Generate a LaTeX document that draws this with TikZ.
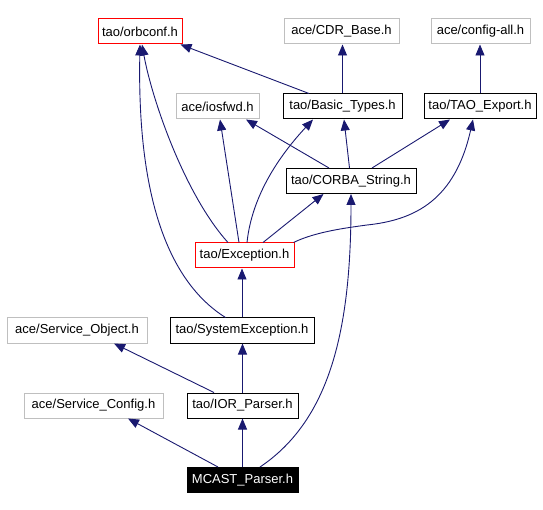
\documentclass[tikz,border=0pt]{standalone}
\usepackage{fontspec}
\setmainfont{Liberation Sans}
\usetikzlibrary{arrows.meta,calc}
\definecolor{edgeblue}{RGB}{25,25,112}
\definecolor{greyline}{RGB}{191,191,191}
\begin{document}
\begin{tikzpicture}[x=1pt,y=-1pt,
  box/.style={line width=1pt,minimum height=25pt,inner sep=0pt,font=\fontsize{13}{15}\selectfont,anchor=center},
  greybox/.style={box,draw=greyline},
  redbox/.style={box,draw=red},
  blackbox/.style={box,draw=black},
  mainbox/.style={box,draw=black,fill=black,text=white},
  edge/.style={draw=edgeblue,line width=0.9pt,-{Triangle[length=11pt,width=9pt]}}]
\useasboundingbox (0,0) rectangle (543,510);
% nodes
\node[redbox,minimum width=84pt] (orb) at (140,31.5) {tao/orbconf.h};
\node[greybox,minimum width=115pt] (cdr) at (341.5,31.5) {ace/CDR\_Base.h};
\node[greybox,minimum width=99pt] (cfg) at (480.5,31.5) {ace/config-all.h};
\node[greybox,minimum width=83pt] (ios) at (217.5,106.5) {ace/iosfwd.h};
\node[blackbox,minimum width=119pt] (bt) at (342.5,106.5) {tao/Basic\_Types.h};
\node[blackbox,minimum width=112pt] (tao) at (480,106.5) {tao/TAO\_Export.h};
\node[blackbox,minimum width=130pt] (cs) at (351,181) {tao/CORBA\_String.h};
\node[redbox,minimum width=99pt] (exc) at (244.5,255.5) {tao/Exception.h};
\node[blackbox,minimum width=144pt] (sys) at (242,330.5) {tao/SystemException.h};
\node[greybox,minimum width=140pt] (so) at (77,330.5) {ace/Service\_Object.h};
\node[greybox,minimum width=139pt] (sc) at (93.5,405.5) {ace/Service\_Config.h};
\node[blackbox,minimum width=111pt] (ior) at (242.5,405.5) {tao/IOR\_Parser.h};
\node[mainbox,minimum width=111pt] (mc) at (242.5,480) {MCAST\_Parser.h};
% edges
\draw[edge] ([xshift=-33.5pt]bt.north) -- ([xshift=-2pt]orb.south east);
\draw[edge] (bt.north) -- (bt.north |- cdr.south);
\draw[edge] (tao.north) -- (tao.north |- cfg.south);
\draw[edge] ([xshift=-22pt]cs.north) -- ([xshift=28.5pt]ios.south);
\draw[edge] ([xshift=-1.5pt]cs.north) -- ([xshift=1.5pt]bt.south);
\draw[edge] ([xshift=21pt]cs.north) -- ([xshift=-30pt]tao.south);
\draw[edge] ([xshift=-16.5pt]exc.north) .. controls (185,195) and (152,100) .. ([xshift=2pt]orb.south);
\draw[edge] ([xshift=-5.5pt]exc.north) -- ([xshift=2.5pt]ios.south);
\draw[edge] ([xshift=2.5pt]exc.north) .. controls (252,195) and (280,155) .. ([xshift=-29.5pt]bt.south);
\draw[edge] ([xshift=18.5pt]exc.north) -- ([xshift=-27.5pt]cs.south);
\draw[edge] ([xshift=-1pt]exc.north east) .. controls (315,232) and (345,228) .. (367,225) .. controls (415,220) and (455,200) .. ([xshift=-7pt]tao.south);
\draw[edge] ([xshift=-16.5pt]sys.north) .. controls (150,270) and (138,150) .. (orb.south);
\draw[edge] (sys.north) -- (sys.north |- exc.south);
\draw[edge] ([xshift=-28.5pt]ior.north) -- ([xshift=37pt]so.south);
\draw[edge] (ior.north) -- (ior.north |- sys.south);
\draw[edge] ([xshift=-24.5pt]mc.north) -- ([xshift=34.5pt]sc.south);
\draw[edge] (mc.north) -- (ior.south);
\draw[edge] ([xshift=17.5pt]mc.north) .. controls (330,420) and (351,330) .. (cs.south);
\end{tikzpicture}
\end{document}
